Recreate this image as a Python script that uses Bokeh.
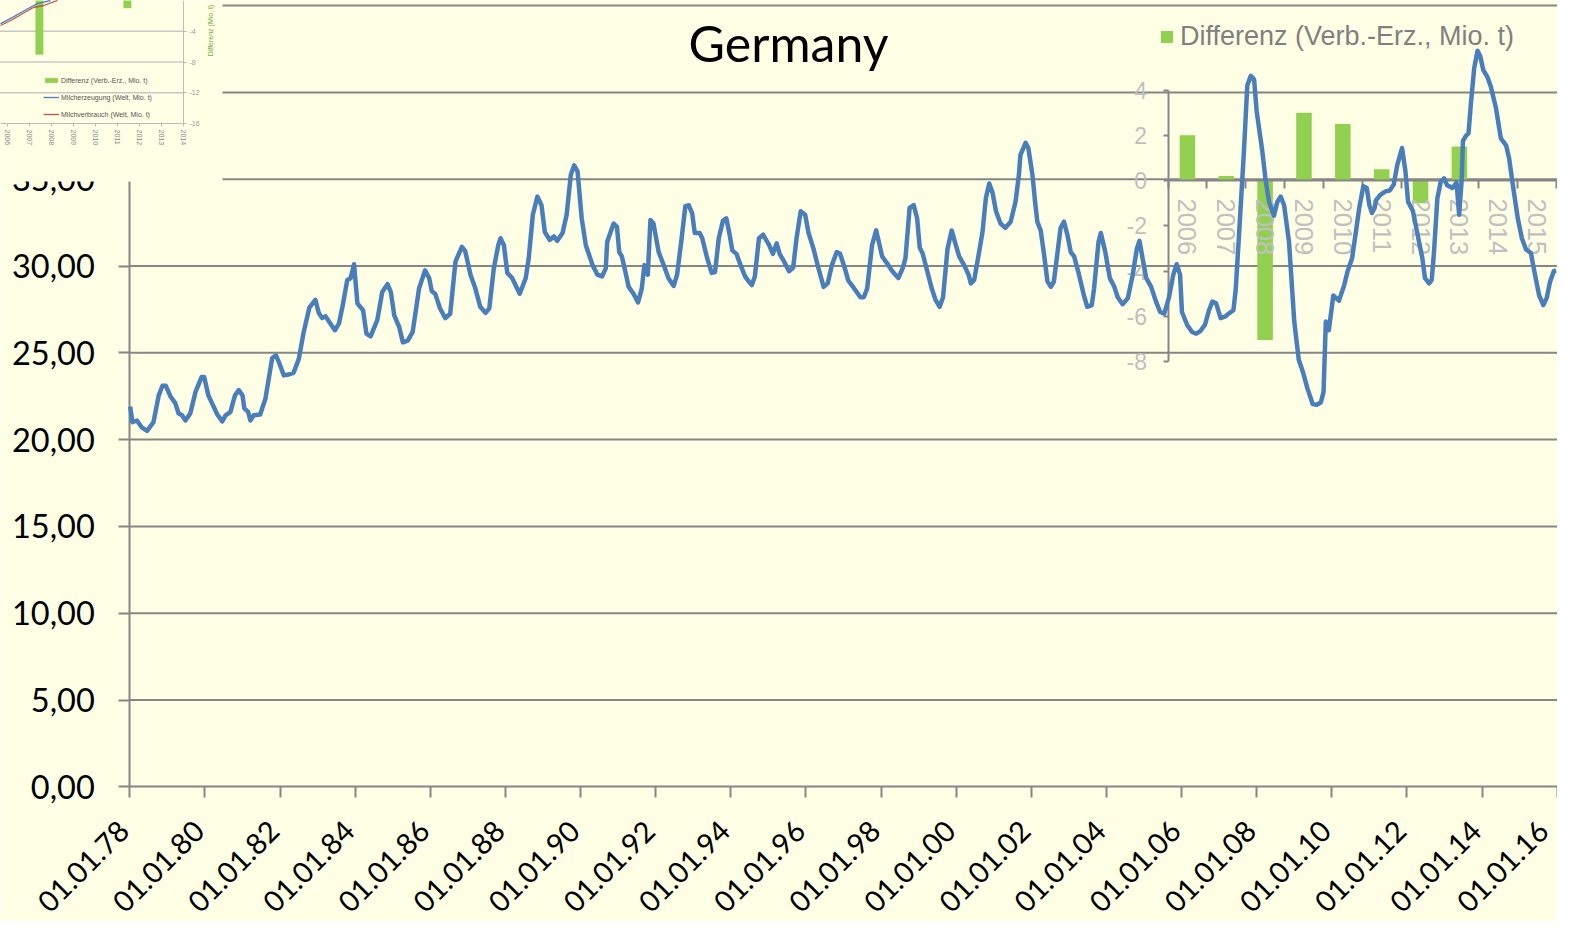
from math import pi
from bokeh.plotting import figure
from bokeh.models import (Range1d, LinearAxis, FixedTicker, BoxAnnotation, Label,
                          Legend, LegendItem, ColumnDataSource)
from bokeh.embed import file_html
from bokeh.resources import INLINE

# ---------------- data ----------------
# Germany, monthly series: decimal year, value
t_years = [
    1978.01, 1978.07, 1978.19, 1978.32, 1978.46, 1978.63, 1978.77, 1978.87, 1978.96, 1979.08,
    1979.21, 1979.30, 1979.39, 1979.48, 1979.61, 1979.75, 1979.91, 1979.98, 1980.09, 1980.21,
    1980.33, 1980.46, 1980.55, 1980.68, 1980.80, 1980.90, 1981.00, 1981.05, 1981.15, 1981.21,
    1981.30, 1981.47, 1981.61, 1981.79, 1981.89, 1981.98, 1982.10, 1982.23, 1982.36, 1982.50,
    1982.63, 1982.78, 1982.94, 1983.03, 1983.12, 1983.21, 1983.32, 1983.46, 1983.57, 1983.67,
    1983.79, 1983.88, 1983.97, 1984.06, 1984.21, 1984.30, 1984.41, 1984.59, 1984.72, 1984.86,
    1984.95, 1985.04, 1985.17, 1985.27, 1985.40, 1985.53, 1985.70, 1985.86, 1985.97, 1986.04,
    1986.13, 1986.26, 1986.40, 1986.53, 1986.67, 1986.84, 1986.93, 1987.07, 1987.20, 1987.33,
    1987.47, 1987.57, 1987.69, 1987.81, 1987.87, 1987.96, 1988.05, 1988.18, 1988.38, 1988.54,
    1988.62, 1988.73, 1988.85, 1988.96, 1989.05, 1989.18, 1989.29, 1989.38, 1989.52, 1989.63,
    1989.74, 1989.83, 1989.92, 1990.03, 1990.14, 1990.32, 1990.45, 1990.57, 1990.67, 1990.71,
    1990.88, 1990.97, 1991.03, 1991.10, 1991.19, 1991.28, 1991.41, 1991.53, 1991.63, 1991.70,
    1991.79, 1991.86, 1991.94, 1992.08, 1992.24, 1992.34, 1992.48, 1992.57, 1992.68, 1992.79,
    1992.88, 1992.97, 1993.04, 1993.17, 1993.24, 1993.37, 1993.49, 1993.58, 1993.68, 1993.79,
    1993.88, 1993.97, 1994.04, 1994.15, 1994.26, 1994.38, 1994.48, 1994.56, 1994.64, 1994.75,
    1994.86, 1995.02, 1995.12, 1995.22, 1995.30, 1995.42, 1995.55, 1995.66, 1995.75, 1995.86,
    1995.98, 1996.07, 1996.20, 1996.33, 1996.47, 1996.58, 1996.69, 1996.82, 1996.91, 1997.03,
    1997.13, 1997.27, 1997.45, 1997.54, 1997.63, 1997.76, 1997.87, 1998.03, 1998.16, 1998.30,
    1998.46, 1998.58, 1998.65, 1998.76, 1998.87, 1998.96, 1999.03, 1999.11, 1999.23, 1999.35,
    1999.45, 1999.56, 1999.65, 1999.77, 1999.88, 1999.99, 2000.08, 2000.21, 2000.33, 2000.39,
    2000.48, 2000.61, 2000.70, 2000.79, 2000.88, 2000.97, 2001.06, 2001.18, 2001.31, 2001.45,
    2001.58, 2001.67, 2001.71, 2001.85, 2001.92, 2002.03, 2002.10, 2002.16, 2002.25, 2002.34,
    2002.43, 2002.52, 2002.60, 2002.69, 2002.78, 2002.87, 2002.96, 2003.05, 2003.14, 2003.27,
    2003.40, 2003.49, 2003.61, 2003.67, 2003.79, 2003.85, 2003.97, 2004.09, 2004.21, 2004.30,
    2004.43, 2004.57, 2004.70, 2004.81, 2004.88, 2004.97, 2005.06, 2005.19, 2005.32, 2005.43,
    2005.54, 2005.66, 2005.78, 2005.87, 2005.96, 2006.01, 2006.15, 2006.28, 2006.39, 2006.50,
    2006.62, 2006.73, 2006.82, 2006.92, 2007.04, 2007.17, 2007.28, 2007.38, 2007.44, 2007.53,
    2007.66, 2007.75, 2007.84, 2007.93, 2008.00, 2008.15, 2008.24, 2008.33, 2008.46, 2008.55,
    2008.64, 2008.73, 2008.86, 2009.00, 2009.12, 2009.23, 2009.35, 2009.49, 2009.60, 2009.71,
    2009.78, 2009.84, 2009.92, 2010.04, 2010.19, 2010.33, 2010.42, 2010.54, 2010.64, 2010.73,
    2010.84, 2010.93, 2011.00, 2011.07, 2011.14, 2011.18, 2011.29, 2011.43, 2011.54, 2011.65,
    2011.74, 2011.87, 2011.96, 2012.03, 2012.16, 2012.27, 2012.41, 2012.48, 2012.59, 2012.66,
    2012.72, 2012.81, 2012.90, 2012.99, 2013.07, 2013.21, 2013.32, 2013.39, 2013.46, 2013.49,
    2013.57, 2013.64, 2013.70, 2013.79, 2013.88, 2013.95, 2014.03, 2014.15, 2014.23, 2014.37,
    2014.50, 2014.64, 2014.72, 2014.83, 2014.95, 2015.06, 2015.17, 2015.30, 2015.39, 2015.52,
    2015.63, 2015.72, 2015.81, 2015.91, 2015.97,
]
germany_values = [
    21.9, 21.0, 21.1, 20.7, 20.5, 21.0, 22.55, 23.1, 23.1, 22.5,
    22.1, 21.5, 21.4, 21.1, 21.5, 22.75, 23.6, 23.6, 22.55, 22.0,
    21.45, 21.05, 21.4, 21.6, 22.55, 22.85, 22.55, 21.8, 21.6, 21.1,
    21.4, 21.45, 22.35, 24.7, 24.85, 24.4, 23.7, 23.75, 23.85, 24.65,
    26.2, 27.6, 28.05, 27.3, 27.0, 27.1, 26.75, 26.3, 26.7, 27.75,
    29.2, 29.3, 30.1, 27.85, 27.45, 26.1, 25.95, 26.9, 28.5, 28.95,
    28.5, 27.15, 26.5, 25.6, 25.7, 26.2, 28.7, 29.75, 29.3, 28.55,
    28.4, 27.55, 27.0, 27.25, 30.25, 31.1, 30.85, 29.5, 28.7, 27.65,
    27.3, 27.55, 29.85, 31.2, 31.6, 31.2, 29.6, 29.3, 28.4, 29.3,
    30.45, 32.95, 34.0, 33.5, 31.95, 31.5, 31.7, 31.45, 31.9, 32.95,
    35.25, 35.8, 35.45, 32.75, 31.2, 30.05, 29.5, 29.4, 29.85, 31.4,
    32.45, 32.25, 30.8, 30.55, 29.7, 28.8, 28.4, 27.9, 28.7, 30.05,
    29.5, 32.65, 32.45, 30.8, 29.9, 29.3, 28.85, 29.5, 31.4, 33.45,
    33.5, 33.05, 31.9, 31.9, 31.6, 30.45, 29.6, 29.65, 31.6, 32.6,
    32.75, 31.8, 30.9, 30.7, 30.05, 29.4, 29.1, 28.9, 29.4, 31.6,
    31.8, 31.2, 30.7, 31.3, 30.7, 30.25, 29.7, 29.9, 31.6, 33.15,
    32.95, 31.9, 31.0, 29.9, 28.8, 29.0, 30.05, 30.8, 30.7, 29.9,
    29.15, 28.75, 28.2, 28.2, 28.7, 31.2, 32.05, 30.55, 30.15, 29.7,
    29.3, 29.9, 30.45, 33.35, 33.5, 32.75, 31.05, 30.7, 29.7, 28.7,
    28.05, 27.65, 28.2, 31.0, 32.05, 31.2, 30.55, 30.05, 29.5, 29.0,
    29.2, 30.8, 31.95, 33.9, 34.75, 34.2, 33.15, 32.45, 32.2, 32.55,
    33.7, 35.25, 36.4, 37.1, 36.8, 35.25, 33.7, 32.55, 32.05, 30.65,
    29.1, 28.8, 29.1, 30.65, 32.2, 32.55, 31.8, 30.8, 30.55, 29.5,
    28.3, 27.65, 27.75, 28.7, 31.4, 31.9, 30.8, 29.3, 28.8, 28.2,
    27.8, 28.15, 29.5, 31.0, 31.45, 30.35, 29.3, 28.8, 27.95, 27.35,
    27.25, 28.15, 29.5, 30.1, 29.5, 27.35, 26.6, 26.2, 26.1, 26.25,
    26.6, 27.45, 27.95, 27.85, 27.0, 27.1, 27.3, 27.45, 28.6, 31.8,
    36.6, 40.4, 40.95, 40.75, 38.9, 36.6, 34.9, 33.7, 32.9, 33.7,
    34.0, 33.5, 31.4, 26.8, 24.6, 23.9, 22.95, 22.05, 22.0, 22.15,
    22.75, 26.8, 26.3, 28.3, 28.0, 28.9, 29.7, 30.45, 31.95, 33.35,
    34.6, 34.5, 33.5, 33.05, 33.35, 33.8, 34.1, 34.3, 34.35, 34.7,
    35.8, 36.8, 35.45, 33.7, 33.15, 31.95, 30.45, 29.3, 29.0, 29.2,
    30.8, 33.9, 34.85, 35.05, 34.65, 34.5, 34.8, 32.95, 35.05, 37.2,
    37.5, 37.65, 39.3, 41.4, 42.4, 42.1, 41.3, 40.85, 40.35, 39.1,
    37.35, 36.95, 36.2, 34.5, 32.75, 31.6, 30.95, 30.75, 29.7, 28.3,
    27.75, 28.15, 29.1, 29.7, 29.75,
]

x_tick_years = [1978, 1980, 1982, 1984, 1986, 1988, 1990, 1992, 1994, 1996,
                1998, 2000, 2002, 2004, 2006, 2008, 2010, 2012, 2014, 2016]
x_tick_labels = ["01.01.78", "01.01.80", "01.01.82", "01.01.84", "01.01.86",
                 "01.01.88", "01.01.90", "01.01.92", "01.01.94", "01.01.96",
                 "01.01.98", "01.01.00", "01.01.02", "01.01.04", "01.01.06",
                 "01.01.08", "01.01.10", "01.01.12", "01.01.14", "01.01.16"]
y_ticks = [0, 5, 10, 15, 20, 25, 30, 35, 40]
y_tick_labels = ["0,00", "5,00", "10,00", "15,00", "20,00", "25,00", "30,00",
                 "35,00", "40,00"]
grid_values = [5, 10, 15, 20, 25, 30, 35, 40, 45]

# inset: Differenz (Verb.-Erz., Mio. t)
inset_years = [2006, 2007, 2008, 2009, 2010, 2011, 2012, 2013, 2014, 2015]
inset_bar_years = [2006, 2007, 2008, 2009, 2010, 2011, 2012, 2013]
inset_diff = [2.0, 0.2, -7.05, 3.0, 2.5, 0.5, -1.0, 1.5]
inset_y_ticks = [-8, -6, -4, -2, 0, 2, 4]
inset_y_labels = ["-8", "-6", "-4", "-2", "0", "2", "4"]

# thumbnail (top-left pasted small chart)
thumb_years = [2006, 2007, 2008, 2009, 2010, 2011, 2012, 2013, 2014]
thumb_y_ticks = [-16, -12, -8, -4]
thumb_y_labels = ["-16", "-12", "-8", "-4"]
thumb_prod_x = [2005.68, 2006.23, 2006.77, 2007.36, 2007.95]
thumb_prod_y = [-3.0, -2.2, -1.3, -0.4, 0.0]
thumb_cons_x = [2005.68, 2006.23, 2006.77, 2007.18, 2007.64, 2008.27]
thumb_cons_y = [-3.25, -2.47, -1.56, -0.91, -0.65, 0.0]

# ---------------- layout ----------------
W, H = 1557, 921
BG = "#FFFFE6"
GRID = "#868686"
BLUE = "#4A7EBB"
GREEN = "#92D050"


def lin_range(v0, p0, v1, p1, size):
    k = (v1 - v0) / (p1 - p0)
    start = v0 - p0 * k
    return start, start + size * k


def fy(ref_y):  # pixel from bottom
    return H - ref_y


mx = lin_range(1978, 129.3, 2016, 1556.7, W)
my = lin_range(0, fy(786.3), 30, fy(265.5), H)
XSHIFT = -6
XSHIFT_LAST = -14
xl = lin_range(1978, 129.3 + XSHIFT, 2016, 1556.7 + XSHIFT, W)
xl2 = lin_range(1978, 129.3 + XSHIFT_LAST, 2016, 1556.7 + XSHIFT_LAST, W)
ixr = lin_range(2006, 1167.5, 2016, 1556, W)
iyr = lin_range(0, fy(180), 4, fy(89.5), H)
txr = lin_range(2006, 7, 2014, 183, W)
tyr = lin_range(0, fy(0), -16, fy(123), H)


def mx_at(ref_x):
    return mx[0] + ref_x * (mx[1] - mx[0]) / W


def my_at(ref_y):
    return my[0] + fy(ref_y) * (my[1] - my[0]) / H


p = figure(width=W, height=H, x_range=Range1d(*mx), y_range=Range1d(*my),
           x_axis_type=None, y_axis_type=None, output_backend="svg",
           toolbar_location=None, min_border=0, background_fill_color=BG,
           border_fill_color=BG, outline_line_color=None)
p.extra_x_ranges = {"xl": Range1d(*xl), "xl2": Range1d(*xl2), "ix": Range1d(*ixr),
                    "tx": Range1d(*txr)}
p.extra_y_ranges = {"iy": Range1d(*iyr), "ty": Range1d(*tyr)}

# gridlines of main chart
grid_src = ColumnDataSource(dict(y=grid_values))
p.segment(x0=1978, x1=2016.06, y0="y", y1="y", source=grid_src,
          line_color=GRID, line_width=2, level="underlay")

# inset bars
bars = p.vbar(x=[y + 0.5 for y in inset_bar_years], top=inset_diff, bottom=0, width=0.4,
              x_range_name="ix", y_range_name="iy", fill_color=GREEN, line_color=None)

# main axes
ax_y = LinearAxis(fixed_location=1978, bounds=(0, 45), ticker=FixedTicker(ticks=y_ticks),
                  major_label_overrides=dict(zip(y_ticks, y_tick_labels)),
                  axis_line_color=GRID, axis_line_width=2,
                  major_tick_line_color=GRID, major_tick_line_width=2,
                  major_tick_out=11, major_tick_in=0, minor_tick_out=0, minor_tick_in=0,
                  major_label_text_font="Lato", major_label_text_font_size="32.5px",
                  major_label_text_color="black", major_label_standoff=24)
p.add_layout(ax_y, "left")

ax_x = LinearAxis(fixed_location=0, bounds=(1978, 2016), ticker=FixedTicker(ticks=x_tick_years),
                  axis_line_color=GRID, axis_line_width=2,
                  major_tick_line_color=GRID, major_tick_line_width=2,
                  major_tick_out=11, major_tick_in=0, minor_tick_out=0, minor_tick_in=0,
                  major_label_text_color=None)
p.add_layout(ax_x, "below")

label_style = dict(axis_line_color=None, major_tick_line_color=None,
                   major_tick_out=0, major_tick_in=0, minor_tick_out=0, minor_tick_in=0,
                   major_label_orientation=pi / 4, major_label_text_font="Lato",
                   major_label_text_font_size="29px", major_label_text_color="black",
                   major_label_standoff=39)
ax_xl = LinearAxis(x_range_name="xl", fixed_location=0,
                   ticker=FixedTicker(ticks=x_tick_years[:-1]),
                   major_label_overrides=dict(zip(x_tick_years[:-1], x_tick_labels[:-1])),
                   **label_style)
p.add_layout(ax_xl, "below")
ax_xl2 = LinearAxis(x_range_name="xl2", fixed_location=0,
                    ticker=FixedTicker(ticks=x_tick_years[-1:]),
                    major_label_overrides=dict(zip(x_tick_years[-1:], x_tick_labels[-1:])),
                    **label_style)
p.add_layout(ax_xl2, "below")

# inset axes
ax_iy = LinearAxis(x_range_name="ix", y_range_name="iy", fixed_location=2006, bounds=(-8, 4),
                   ticker=FixedTicker(ticks=inset_y_ticks),
                   major_label_overrides=dict(zip(inset_y_ticks, inset_y_labels)),
                   axis_line_color=GRID, axis_line_width=2,
                   major_tick_line_color=GRID, major_tick_line_width=2,
                   major_tick_out=5, major_tick_in=0, minor_tick_out=0, minor_tick_in=0,
                   major_label_text_font="Liberation Sans", major_label_text_font_size="23px",
                   major_label_text_color="#BFBFBF", major_label_standoff=16)
p.add_layout(ax_iy, "left")

ax_ix = LinearAxis(x_range_name="ix", y_range_name="iy", fixed_location=0, bounds=(2006, 2016),
                   ticker=FixedTicker(ticks=inset_years + [2016]),
                   axis_line_color=GRID, axis_line_width=2,
                   major_tick_line_color=GRID, major_tick_line_width=2,
                   major_tick_out=8, major_tick_in=0, minor_tick_out=0, minor_tick_in=0,
                   major_label_text_color=None)
p.add_layout(ax_ix, "below")

ax_ixl = LinearAxis(x_range_name="ix", y_range_name="iy", fixed_location=0,
                    ticker=FixedTicker(ticks=[y + 0.5 for y in inset_years]),
                    major_label_overrides={y + 0.5: str(y) for y in inset_years},
                    axis_line_color=None, major_tick_line_color=None,
                    major_tick_out=0, major_tick_in=0, minor_tick_out=0, minor_tick_in=0,
                    major_label_orientation="vertical", major_label_text_font="Liberation Sans",
                    major_label_text_font_size="25.5px", major_label_text_color="#C0C0C0",
                    major_label_standoff=18)
p.add_layout(ax_ixl, "below")

# main series
p.line(x=t_years, y=germany_values, line_color=BLUE, line_width=4.5,
       line_join="round", level="annotation")

# title
p.add_layout(Label(x=mx_at(788), y=my_at(42), text="Germany", text_font="Lato",
                   text_font_size="50px", text_align="center", text_baseline="alphabetic",
                   text_color="black"))

# inset legend
leg = Legend(items=[LegendItem(label="Differenz (Verb.-Erz., Mio. t)", renderers=[bars])],
             location=(1159, fy(52)), label_text_font="Liberation Sans",
             label_text_font_size="27px", label_text_color="#7F7F7F",
             glyph_width=15, glyph_height=15, label_standoff=6, padding=0, margin=0,
             background_fill_alpha=0, border_line_color=None)
p.add_layout(leg)

# ---------------- thumbnail of another chart (top-left) ----------------
p.add_layout(BoxAnnotation(left=mx[0], right=mx_at(222), bottom=my_at(181), top=my[1],
                           fill_color=BG, fill_alpha=1, line_color=None, level="annotation"))

tgrid = ColumnDataSource(dict(y=[-4, -8, -12]))
p.segment(x0=2005.6, x1=2014.0, y0="y", y1="y", source=tgrid, x_range_name="tx",
          y_range_name="ty", line_color="#C8C8C8", line_width=1.5, level="overlay")
tbars = p.vbar(x=[y - 0.55 for y in inset_bar_years], top=inset_diff, bottom=0, width=0.36,
               x_range_name="tx", y_range_name="ty", fill_color=GREEN, line_color=None,
               level="overlay")
tprod = p.line(thumb_prod_x, thumb_prod_y, x_range_name="tx", y_range_name="ty",
               line_color="#4F81BD", line_width=1.3, level="overlay")
tcons = p.line(thumb_cons_x, thumb_cons_y, x_range_name="tx", y_range_name="ty",
               line_color="#C0504D", line_width=1.3, level="overlay")

t_ax_y = LinearAxis(x_range_name="tx", y_range_name="ty", fixed_location=2014, bounds=(-16, 0),
                    ticker=FixedTicker(ticks=thumb_y_ticks),
                    major_label_overrides=dict(zip(thumb_y_ticks, thumb_y_labels)),
                    axis_line_color="#BBBBBB", major_tick_line_color="#BBBBBB",
                    major_tick_out=3, major_tick_in=0, minor_tick_out=0, minor_tick_in=0,
                    major_label_text_font="Liberation Sans", major_label_text_font_size="7px",
                    major_label_text_color="#999999", major_label_standoff=3, level="overlay")
p.add_layout(t_ax_y, "right")
t_ax_x = LinearAxis(x_range_name="tx", y_range_name="ty", fixed_location=-16,
                    bounds=(2005.6, 2014), ticker=FixedTicker(ticks=thumb_years),
                    axis_line_color="#BBBBBB", major_tick_line_color="#BBBBBB",
                    major_tick_out=3, major_tick_in=0, minor_tick_out=0, minor_tick_in=0,
                    major_label_orientation="vertical",
                    major_label_text_font="Liberation Sans", major_label_text_font_size="7px",
                    major_label_text_color="#888888", major_label_standoff=3, level="overlay")
p.add_layout(t_ax_x, "below")

p.add_layout(Label(x=txr[0] + 210 * (txr[1] - txr[0]) / W, y=-3.9, x_range_name="tx",
                   y_range_name="ty", text="Differenz (Mio. t)", angle=pi / 2,
                   text_font="Liberation Sans", text_font_size="7px", text_color="#77A33A",
                   text_align="center", text_baseline="middle", level="overlay"))

tleg = Legend(items=[LegendItem(label="Differenz (Verb.-Erz., Mio. t)", renderers=[tbars]),
                     LegendItem(label="Milcherzeugung (Welt, Mio. t)", renderers=[tprod]),
                     LegendItem(label="Milchverbrauch (Welt, Mio. t)", renderers=[tcons])],
              location=(43, fy(118)), label_text_font="Liberation Sans",
              label_text_font_size="7px", label_text_color="#555555",
              glyph_width=16, glyph_height=6, label_height=8, spacing=9, label_standoff=2,
              padding=0, margin=0, background_fill_alpha=0, border_line_color=None,
              level="overlay")
p.add_layout(tleg)

open("out.html", "w").write(file_html(p, INLINE))
